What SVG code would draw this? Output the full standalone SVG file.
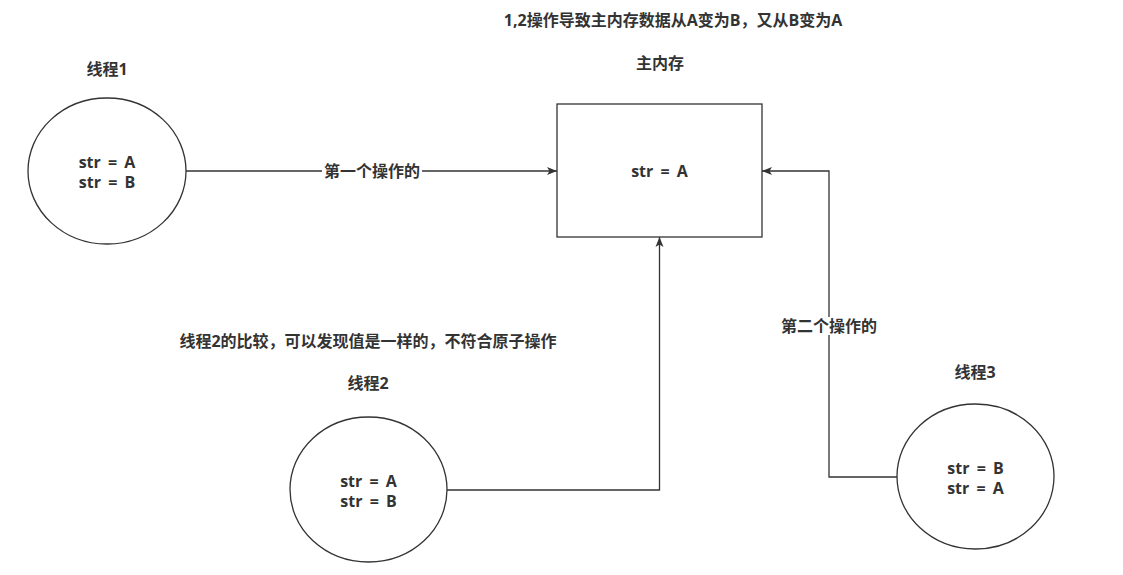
<svg xmlns="http://www.w3.org/2000/svg" width="1123" height="575" viewBox="0 0 1123 575">
<defs>
<style>
.t{font-family:"Open Sans","Noto Sans CJK SC",sans-serif;font-weight:bold;font-size:16px;fill:#333;text-anchor:middle;dominant-baseline:central}
.v{word-spacing:3px}
.s{fill:#fff;stroke:#333;stroke-width:1.3}
.c{fill:none;stroke:#333;stroke-width:1.3}
.bg{fill:#fff}
</style>
<marker id="arr" viewBox="0 0 10 10" refX="10" refY="5" markerWidth="10" markerHeight="10" markerUnits="userSpaceOnUse" orient="auto">
<path d="M0,1 L10,5 L0,9 L2.5,5 Z" fill="#333"/>
</marker>
</defs>
<rect width="1123" height="575" fill="#fff"/>
<text class="t" x="673" y="20">1,2操作导致主内存数据从A变为B，又从B变为A</text>
<text class="t" x="368" y="341">线程2的比较，可以发现值是一样的，不符合原子操作</text>
<g id="connectors">
<g id="e1">
<path class="c" d="M186,171 H557" marker-end="url(#arr)"/>
<rect class="bg" x="322" y="162" width="100" height="18"/>
<text class="t" x="372" y="171">第一个操作的</text>
</g>
<g id="e2">
<path class="c" d="M447,490 H659.5 V237" marker-end="url(#arr)"/>
</g>
<g id="e3">
<path class="c" d="M897,477 H829 V171 H762" marker-end="url(#arr)"/>
<rect class="bg" x="779" y="317" width="100" height="18"/>
<text class="t" x="829" y="326">第二个操作的</text>
</g>
</g>
<g id="thread1">
<text class="t" x="107" y="69">线程1</text>
<ellipse class="s" cx="107" cy="171" rx="79" ry="73"/>
<text class="t v" x="107" y="162">str = A</text>
<text class="t v" x="107" y="182">str = B</text>
</g>
<g id="memory">
<text class="t" x="660" y="63">主内存</text>
<rect class="s" x="557" y="104" width="205" height="133"/>
<text class="t v" x="659.5" y="171">str = A</text>
</g>
<g id="thread2">
<text class="t" x="368" y="383">线程2</text>
<ellipse class="s" cx="368.5" cy="489.5" rx="78.5" ry="72.5"/>
<text class="t v" x="368.5" y="481">str = A</text>
<text class="t v" x="368.5" y="501">str = B</text>
</g>
<g id="thread3">
<text class="t" x="975" y="372">线程3</text>
<ellipse class="s" cx="975.5" cy="476.5" rx="78.5" ry="72.5"/>
<text class="t v" x="975.5" y="468">str = B</text>
<text class="t v" x="975.5" y="488">str = A</text>
</g>
</svg>
